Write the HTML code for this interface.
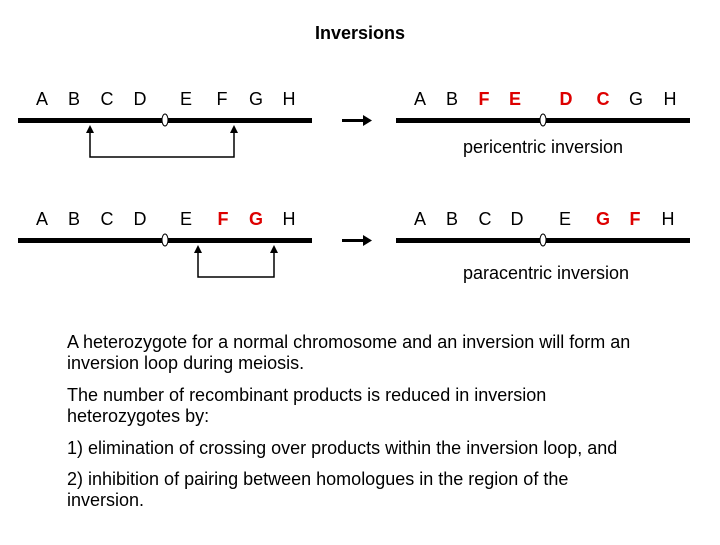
<!DOCTYPE html><html><head><style>
body{margin:0;background:#fff;}
svg text{font-family:"Liberation Sans",Arial,sans-serif;}
</style></head><body>
<svg width="720" height="540" viewBox="0 0 720 540" xmlns="http://www.w3.org/2000/svg">
<text x="360" y="39" font-size="18" font-weight="bold" text-anchor="middle">Inversions</text>
<g font-size="18" text-anchor="middle">
<text x="42" y="105">A</text><text x="74" y="105">B</text><text x="107" y="105">C</text><text x="140" y="105">D</text><text x="186" y="105">E</text><text x="222" y="105">F</text><text x="256" y="105">G</text><text x="289" y="105">H</text>
<text x="420" y="105">A</text><text x="452" y="105">B</text><text x="484" y="105" fill="#d00" font-weight="bold">F</text><text x="515" y="105" fill="#d00" font-weight="bold">E</text><text x="566" y="105" fill="#d00" font-weight="bold">D</text><text x="603" y="105" fill="#d00" font-weight="bold">C</text><text x="636" y="105">G</text><text x="670" y="105">H</text>
<text x="42" y="225">A</text><text x="74" y="225">B</text><text x="107" y="225">C</text><text x="140" y="225">D</text><text x="186" y="225">E</text><text x="223" y="225" fill="#d00" font-weight="bold">F</text><text x="256" y="225" fill="#d00" font-weight="bold">G</text><text x="289" y="225">H</text>
<text x="420" y="225">A</text><text x="452" y="225">B</text><text x="485" y="225">C</text><text x="517" y="225">D</text><text x="565" y="225">E</text><text x="603" y="225" fill="#d00" font-weight="bold">G</text><text x="635" y="225" fill="#d00" font-weight="bold">F</text><text x="668" y="225">H</text>
</g>
<g fill="#000">
<rect x="18" y="118" width="294" height="5"/><rect x="396" y="118" width="294" height="5"/>
<rect x="18" y="238" width="294" height="5"/><rect x="396" y="238" width="294" height="5"/>
</g>
<g fill="#fff" stroke="#000" stroke-width="1">
<ellipse cx="165" cy="120" rx="3" ry="6"/><ellipse cx="543" cy="120" rx="3" ry="6"/>
<ellipse cx="165" cy="240" rx="3" ry="6"/><ellipse cx="543" cy="240" rx="3" ry="6"/>
</g>
<g stroke="#000" stroke-width="1.5" fill="none">
<polyline points="90,131 90,157 234,157 234,131"/>
<polyline points="198,251 198,277 274,277 274,251"/>
</g>
<g fill="#000">
<polygon points="90,125 86,133 94,133"/><polygon points="234,125 230,133 238,133"/>
<polygon points="198,245 194,253 202,253"/><polygon points="274,245 270,253 278,253"/>
<rect x="342" y="119" width="24" height="3"/><polygon points="372,120.5 363,115 363,126"/>
<rect x="342" y="239" width="24" height="3"/><polygon points="372,240.5 363,235 363,246"/>
</g>
<text x="543" y="153" font-size="18" text-anchor="middle">pericentric inversion</text>
<text x="546" y="279" font-size="18" text-anchor="middle">paracentric inversion</text>
<g font-size="18">
<text x="67" y="348">A heterozygote for a normal chromosome and an inversion will form an</text>
<text x="67" y="369">inversion loop during meiosis.</text>
<text x="67" y="401">The number of recombinant products is reduced in inversion</text>
<text x="67" y="422">heterozygotes by:</text>
<text x="67" y="454">1) elimination of crossing over products within the inversion loop, and</text>
<text x="67" y="485">2) inhibition of pairing between homologues in the region of the</text>
<text x="67" y="506">inversion.</text>
</g>
</svg>
</body></html>
